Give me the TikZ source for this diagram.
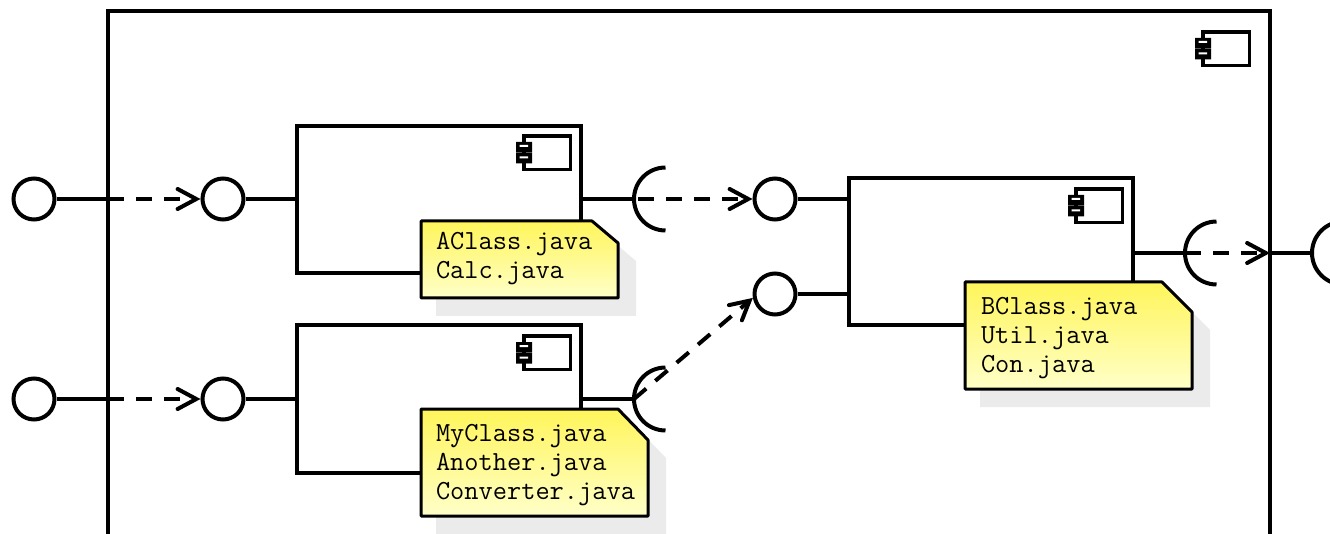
\documentclass[tikz,border=0pt]{standalone}
\usepackage{fontspec}
\usetikzlibrary{arrows.meta}
\tikzset{
  comp/.style={shape=rectangle, draw, fill=white, anchor=north west, inner sep=0, outer sep=0, minimum width=213pt, minimum height=110.25pt},
  port/.style={shape=circle, draw, fill=white, inner sep=0, minimum size=30.75pt},
  depend/.style={dash pattern=on 12pt off 9pt, -{Straight Barb[length=14pt,width=15pt,line cap=round]}},
  noteshadow/.style={fill=black!8, draw=none},
  notebody/.style={draw, line width=2.25pt, line join=round, top color=noteyellow, bottom color=notepale},
  notetext/.style={anchor=north west, inner sep=0, align=left, font=\ttfamily\fontsize{20.7}{21.75}\selectfont},
  socket/.pic={\draw (31.5,-31.5) arc[start angle=270, end angle=90, radius=31.5];},
  compicon/.pic={
    \draw[line width=2.6pt, fill=white] (1,1) rectangle (47.5,34.5);
    \fill (-7,7) rectangle (9,17.5) (-7,18) rectangle (9,28.5);
    \fill[white] (-3.5,10) rectangle (5,12) (-3.5,21.5) rectangle (5,23.5);
  },
}
\definecolor{noteyellow}{RGB}{255,245,90}
\definecolor{notepale}{RGB}{255,255,200}
\begin{document}
\begin{tikzpicture}[x=.75pt, y=-.75pt, line width=3pt]
\useasboundingbox (0,0) rectangle (1330,534);
\clip (0,0) rectangle (1330,534);
% outer component runs past the page
\node[comp, minimum width=871.5pt, minimum height=500pt] (outer) at (108,11) {};
\pic at (1202,31) {compicon};
% inner components
\node[comp] (compA) at (297,126) {};
\node[comp] (compB) at (297,325.5) {};
\node[comp] (compC) at (849,178.5) {};
\pic at (523,135) {compicon};
\pic at (523,335) {compicon};
\pic at (1075,188) {compicon};
% ports
\node[port] (extA) at (34,199) {};
\node[port] (extB) at (34,399) {};
\node[port] (portA) at (223,199) {};
\node[port] (portB) at (223,399) {};
\node[port] (portC) at (775,199) {};
\node[port] (portD) at (775,294) {};
\coordinate (sockA) at (634,199);
\coordinate (sockB) at (634,399);
\coordinate (sockC) at (1185,253);
\coordinate (sockD) at (1312,253);
\pic at (sockA) {socket};
\pic at (sockB) {socket};
\pic at (sockC) {socket};
\pic at (sockD) {socket};
% solid wires
\draw (extA) -- (extA -| outer.west);
\draw (extB) -- (extB -| outer.west);
\draw (portA) -- (portA -| compA.west);
\draw (portB) -- (portB -| compB.west);
\draw (portC) -- (portC -| compC.west);
\draw (portD) -- (portD -| compC.west);
\draw (sockA -| compA.east) -- (sockA);
\draw (sockB -| compB.east) -- (sockB);
\draw (sockC -| compC.east) -- (sockC);
\draw (sockD -| outer.east) -- (sockD);
% dependencies
\draw[depend] (extA -| outer.west) -- (portA);
\draw[depend] (extB -| outer.west) -- (portB);
\draw[depend, dash phase=18pt] (sockA) -- (portC);
\draw[depend] (sockB) -- (portD.190);
\draw[depend] (sockC) -- (sockD -| outer.east);
% notes
\path[noteshadow] (436,239) -- (610,239) -- (636,261) -- (636,316) -- (436,316) -- cycle;
\path[notebody] (421,221) -- (592,221) -- (618,243) -- (618,298) -- (421,298) -- cycle;
\node[notetext] (noteA) at (434,230.5) {AClass.java\\Calc.java};
\path[noteshadow] (436,427) -- (636,427) -- (666,458) -- (666,534) -- (436,534) -- cycle;
\path[notebody] (421,409) -- (618,409) -- (648,440) -- (648,516) -- (421,516) -- cycle;
\node[notetext] (noteB) at (434,422.5) {MyClass.java\\Another.java\\Converter.java};
\path[noteshadow] (980,300) -- (1180,300) -- (1210,330) -- (1210,407) -- (980,407) -- cycle;
\path[notebody] (965,282) -- (1162,282) -- (1192,312) -- (1192,389) -- (965,389) -- cycle;
\node[notetext] (noteC) at (979,295.5) {BClass.java\\Util.java\\Con.java};
\end{tikzpicture}
\end{document}
